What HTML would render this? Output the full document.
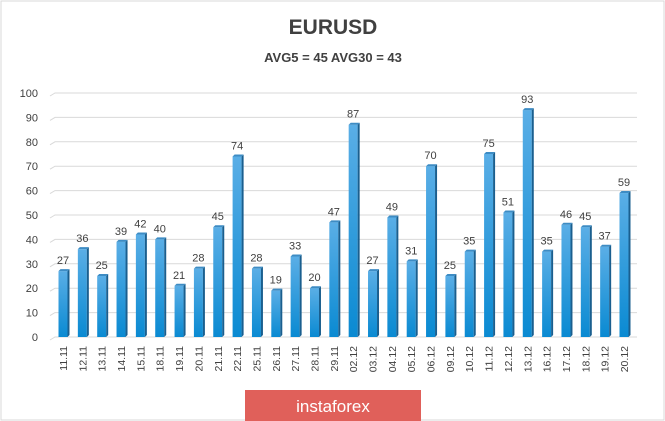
<!DOCTYPE html>
<html><head><meta charset="utf-8"><style>
body{margin:0;background:#fff;font-family:"Liberation Sans",sans-serif}
svg{display:block}
</style></head><body>
<svg width="665" height="421">
<defs>
<linearGradient id="bg" x1="0" y1="0" x2="0" y2="1"><stop offset="0" stop-color="#5aaee6"/><stop offset="1" stop-color="#0a8ad2"/></linearGradient>
</defs>
<rect x="1" y="1" width="663" height="419" fill="#fff" stroke="#d9d9d9"/>
<text x="333" y="34" text-anchor="middle" font-size="21" font-weight="bold" fill="#404040">EURUSD</text>
<text x="333" y="62" text-anchor="middle" font-size="13" font-weight="bold" fill="#404040">AVG5 = 45 AVG30 = 43</text>
<g id="grid"></g><g id="bars"></g><g id="xl"></g>
<rect x="245" y="390" width="176" height="31" fill="#e0605a"/>
<text x="333" y="412" text-anchor="middle" font-size="17" fill="#fff">instaforex</text>
</svg>
<script>
const categories=["11.11","12.11","13.11","14.11","15.11","18.11","19.11","20.11","21.11","22.11","25.11","26.11","27.11","28.11","29.11","02.12","03.12","04.12","05.12","06.12","09.12","10.12","11.12","12.12","13.12","16.12","17.12","18.12","19.12","20.12"];
const values=[27,36,25,39,42,40,21,28,45,74,28,19,33,20,47,87,27,49,31,70,25,35,75,51,93,35,46,45,37,59];
const yTicks=[0,10,20,30,40,50,60,70,80,90,100];
const NS="http://www.w3.org/2000/svg";
const y=v=>337-v*2.44;
const x=i=>63+i*(624-63)/(categories.length-1);
function mk(t,a,p){const e=document.createElementNS(NS,t);for(const k in a)e.setAttribute(k,a[k]);p.appendChild(e);return e;}
const g=document.getElementById('grid'),b=document.getElementById('bars'),xl=document.getElementById('xl');
yTicks.forEach(v=>{
 const l=mk('polyline',{points:`50,${y(v)+3} 55,${y(v)} 637,${y(v)}`,fill:'none',stroke:'#d9d9d9','stroke-width':1},g);
 
 
 const t=mk('text',{x:38,y:y(v)+4,'text-anchor':'end','font-size':11,fill:'#404040'},g);t.textContent=v;
 
 
});
values.forEach((v,i)=>{
 const cx=x(i),top=y(v),w=9;
 const r=mk('rect',{x:cx-w/2,y:top,width:w,height:337-top,fill:'url(#bg)'},b);
 
 
 const s=mk('polygon',{points:`${cx+w/2},${top} ${cx+w/2+2},${top-2} ${cx+w/2+2},335 ${cx+w/2},337`,fill:'#1a5f8f'},b);
 
 
 const tp=mk('polygon',{points:`${cx-w/2},${top} ${cx-w/2+2},${top-2} ${cx+w/2+2},${top-2} ${cx+w/2},${top}`,fill:'#3d8cc4'},b);
 
 
 const t=mk('text',{x:cx,y:top-7,'text-anchor':'middle','font-size':11,fill:'#404040'},b);t.textContent=v;
 
 
 const d=mk('text',{transform:`translate(${cx+4},346) rotate(-90)`,'text-anchor':'end','font-size':10.5,fill:'#404040'},xl);d.textContent=categories[i];
 
 
});
</script>
</body></html>
